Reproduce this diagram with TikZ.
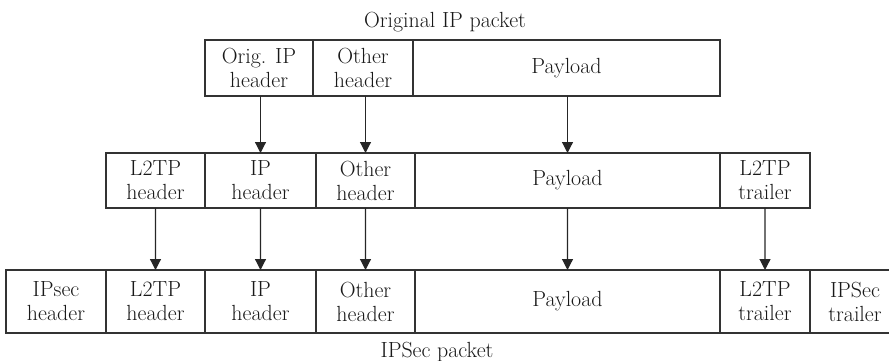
\documentclass[tikz,border=0pt]{standalone}
\usepackage{tikz}
\usetikzlibrary{arrows.meta,positioning}

\newcommand{\pktfont}{\fontsize{22}{24}\selectfont}

\begin{document}
\begin{tikzpicture}[x=1bp,y=1bp,>=Latex,
  fld/.style={draw=black!80,line width=1.1bp,outer sep=0pt,inner sep=0pt,
    align=center,text=black!90,font=\pktfont},
  row1/.style={fld,minimum height=56bp},
  row2/.style={fld,minimum height=55bp},
  row3/.style={fld,minimum height=63bp},
  hop/.style={-{Triangle[length=11bp,width=11bp]},line width=1.2bp,black!85},
  pktlabel/.style={anchor=base,text=black!90,font=\pktfont}]
  \useasboundingbox (0,0) rectangle (889,360);
  % original packet
  \node[pktlabel] (ttl) at (445,333) {Original IP packet};
  \node[row1,minimum width=108bp,anchor=west] (oiph) at (205,292) {Orig. IP\\header};
  \node[row1,minimum width=100bp,right=0pt of oiph] (ooth) {Other\\header};
  \node[row1,minimum width=307bp,right=0pt of ooth] (opay) {Payload};
  % L2TP packet
  \node[row2,minimum width=99bp,anchor=west] (l2h) at (106,179.5) {L2TP\\header};
  \node[row2,minimum width=111bp,right=0pt of l2h] (iph) {IP\\header};
  \node[row2,minimum width=99bp,right=0pt of iph] (oth) {Other\\header};
  \node[row2,minimum width=305bp,right=0pt of oth] (pay) {Payload};
  \node[row2,minimum width=90bp,right=0pt of pay] (l2t) {L2TP\\trailer};
  % IPSec packet
  \node[row3,minimum width=100bp,anchor=west] (sech) at (6,58.5) {IPsec\\header};
  \node[row3,minimum width=99bp,right=0pt of sech] (sl2h) {L2TP\\header};
  \node[row3,minimum width=111bp,right=0pt of sl2h] (siph) {IP\\header};
  \node[row3,minimum width=99bp,right=0pt of siph] (soth) {Other\\header};
  \node[row3,minimum width=305bp,right=0pt of soth] (spay) {Payload};
  \node[row3,minimum width=90bp,right=0pt of spay] (sl2t) {L2TP\\trailer};
  \node[row3,minimum width=90bp,right=0pt of sl2t] (sect) {IPSec\\trailer};
  \node[pktlabel] (btm) at (437,3) {IPSec packet};
  % arrows
  \draw[hop] (iph.north |- oiph.south) -- (iph.north);
  \draw[hop] (oth.north |- ooth.south) -- (oth.north);
  \draw[hop] (pay.north |- opay.south) -- (pay.north);
  \draw[hop] (l2h.south) -- (sl2h.north);
  \draw[hop] (iph.south) -- (siph.north);
  \draw[hop] (oth.south) -- (soth.north);
  \draw[hop] (pay.south) -- (spay.north);
  \draw[hop] (l2t.south) -- (sl2t.north);
\end{tikzpicture}
\end{document}
